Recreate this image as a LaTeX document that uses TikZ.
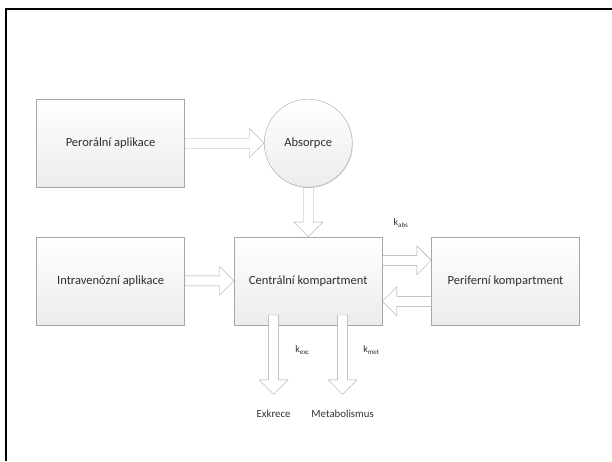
\documentclass[tikz,border=0pt]{standalone}
\usepackage{fontspec}
\setmainfont{Carlito}
\usetikzlibrary{calc,positioning,shadows}
\tikzset{
  comp/.style={draw=gray!70, top color=white, bottom color=gray!15,
    drop shadow={shadow xshift=0.8pt, shadow yshift=-0.8pt, fill=gray!50, opacity=0.5},
    minimum width=148pt, minimum height=88pt, inner sep=0pt,
    font=\fontsize{12.5}{14}\selectfont, text=black!82},
  phase/.style={comp, circle, minimum size=88pt, minimum width=88pt},
  outlab/.style={font=\fontsize{10.8}{12}\selectfont, text=black!80, inner sep=0pt},
  klab/.style={font=\fontsize{10}{12}\selectfont, text=black!80, inner sep=0pt},
  fat/.style={draw=gray!70, fill=white, line join=miter,
    to path={
      ($(\tikztostart)!5pt!90:(\tikztotarget)$)
      -- ($($(\tikztotarget)!14.5pt!(\tikztostart)$)!5pt!90:(\tikztotarget)$)
      -- ($($(\tikztotarget)!14.5pt!(\tikztostart)$)!14.5pt!90:(\tikztotarget)$)
      -- (\tikztotarget)
      -- ($($(\tikztotarget)!14.5pt!(\tikztostart)$)!14.5pt!-90:(\tikztotarget)$)
      -- ($($(\tikztotarget)!14.5pt!(\tikztostart)$)!5pt!-90:(\tikztotarget)$)
      -- ($(\tikztostart)!5pt!-90:(\tikztotarget)$)
      -- cycle}}
}

\begin{document}
\begin{tikzpicture}[x=1pt,y=-1pt]
  \def\yt{143.2}
  \def\yb{280.8}
  \def\xa{110.6}
  \def\xb{308.2}
  \def\xc{505.5}
  \useasboundingbox (0,0) rectangle (612,461);
  \draw[line width=2pt] (6,461) -- (6,9) -- (612,9);

  \node[comp]  (oral)   at (\xa,\yt) {Perorální aplikace};
  \node[phase] (absorb) at (\xb,\yt) {Absorpce};
  \node[comp]  (iv)     at (\xa,\yb) {Intravenózní aplikace};
  \node[comp]  (central) at (\xb,\yb) {Centrální kompartment};
  \node[comp]  (periph) at (\xc,\yb) {Periferní kompartment};

  \coordinate (c2p) at ($(central.east)+(0,-20.5)$);
  \coordinate (p2c) at ($(periph.west)+(0,20.5)$);
  \coordinate (excA) at ($(central.south)+(-34.6,-10)$);
  \coordinate (excB) at ($(central.south)+(-34.6,69.3)$);
  \coordinate (metA) at ($(central.south)+(34.4,-10)$);
  \coordinate (metB) at ($(central.south)+(34.4,69.3)$);

  \draw[fat] (oral.east) to (absorb.west);
  \draw[fat] (absorb.south) to (central.north);
  \draw[fat] (iv.east) to (central.west);
  \draw[fat] (c2p) to (c2p -| periph.west);
  \draw[fat] (p2c) to (p2c -| central.east);
  \draw[fat] (excA) to (excB);
  \draw[fat] (metA) to (metB);

  \node[klab] (kabs) at (401,223) {k\textsubscript{abs}};
  \node[klab] (kexc) at (302.5,350) {k\textsubscript{exc}};
  \node[klab] (kmet) at (371.5,350) {k\textsubscript{met}};
  \node[outlab, below=15pt of excB] (excr) {Exkrece};
  \node[outlab, below=15pt of metB] (metab) {Metabolismus};
\end{tikzpicture}
\end{document}
